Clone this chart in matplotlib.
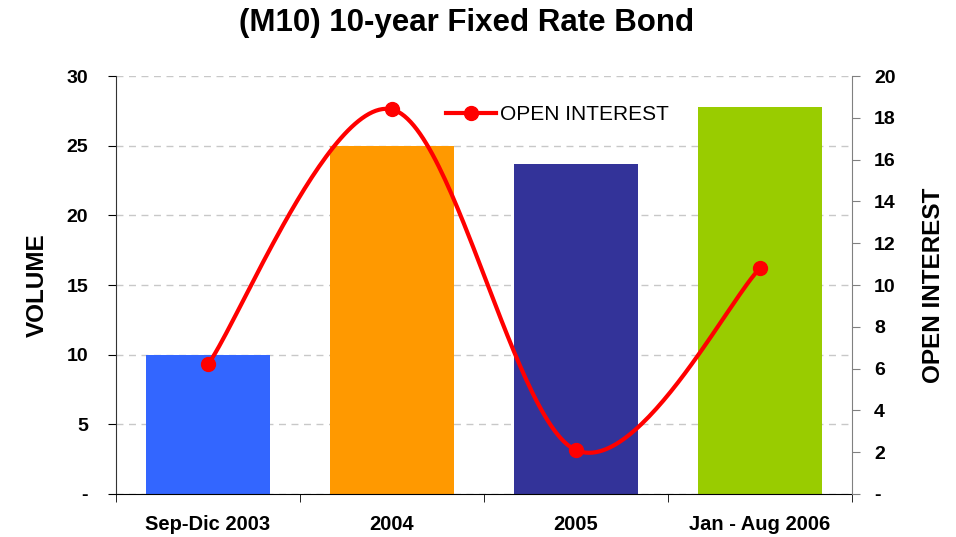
import numpy as np
import matplotlib
matplotlib.use("Agg")
import matplotlib.pyplot as plt
from matplotlib.lines import Line2D

plt.rcParams['font.family'] = ['Liberation Sans', 'DejaVu Sans']

categories = ["Sep-Dic 2003", "2004", "2005", "Jan - Aug 2006"]
volume = [10.0, 25.0, 23.7, 27.8]
open_interest = [6.2, 18.4, 2.1, 10.8]
bar_colors = ["#3366FF", "#FF9900", "#333399", "#99CC00"]
left_ticks = [0, 5, 10, 15, 20, 25, 30]
left_labels = ["-", "5", "10", "15", "20", "25", "30"]
right_ticks = [0, 2, 4, 6, 8, 10, 12, 14, 16, 18, 20]
right_labels = ["-"] + [str(v) for v in right_ticks[1:]]


def catmull_rom(xs, ys, n=60):
    xs = np.asarray(xs, float); ys = np.asarray(ys, float)
    px = np.concatenate([[xs[0]], xs, [xs[-1]]])
    py = np.concatenate([[ys[0]], ys, [ys[-1]]])
    ox, oy = [], []
    for i in range(1, len(px) - 2):
        p0 = np.array([px[i-1], py[i-1]]); p1 = np.array([px[i], py[i]])
        p2 = np.array([px[i+1], py[i+1]]); p3 = np.array([px[i+2], py[i+2]])
        c1 = p1 + (p2 - p0) / 6.0
        c2 = p2 - (p3 - p1) / 6.0
        t = np.linspace(0, 1, n)[:, None]
        b = ((1-t)**3)*p1 + 3*((1-t)**2)*t*c1 + 3*(1-t)*t**2*c2 + t**3*p2
        ox.extend(b[:, 0]); oy.extend(b[:, 1])
    return np.array(ox), np.array(oy)


fig = plt.figure(figsize=(9.56, 5.37), dpi=100)
ax = fig.add_axes([116/956, 1-494/537, (852-116)/956, (494-76)/537])
x = np.arange(len(categories))
ax.bar(x, volume, width=0.67, color=bar_colors, zorder=2)
ax.set_xlim(-0.5, len(categories) - 0.5)
ax.set_ylim(0, 30)
ax.set_yticks(left_ticks)
ax.set_yticklabels(left_labels, fontsize=14, fontweight='bold')
ax.set_xticks(x)
ax.set_xticklabels(categories, fontsize=14.5, fontweight='bold')
ax.tick_params(axis='x', length=0, pad=15)
ax.set_xticks(np.arange(-0.5, len(categories), 1.0), minor=True)
ax.tick_params(axis='x', which='minor', length=6, direction='out', color='black')
ax.tick_params(axis='y', length=6, direction='out', pad=14)
ax.grid(axis='y', color='#C8C8C8', linestyle=(0, (5, 4)), linewidth=1, zorder=0)
for s in ['top', 'right']:
    ax.spines[s].set_visible(False)
ax.spines['left'].set_color('#333333')
ax.spines['bottom'].set_color('black')
ax.set_ylabel("VOLUME", fontsize=17.5, fontweight='bold', labelpad=13)

ax2 = ax.twinx()
ax2.set_ylim(0, 20)
ax2.set_yticks(right_ticks)
ax2.set_yticklabels(right_labels, fontsize=14, fontweight='bold')
ax2.tick_params(axis='y', length=6, direction='out', color='#808080', pad=10)
for s in ['top', 'left', 'bottom']:
    ax2.spines[s].set_visible(False)
ax2.spines['right'].set_color('#808080')
ax2.set_ylabel("OPEN INTEREST", fontsize=17.5, fontweight='bold', labelpad=19)
sx, sy = catmull_rom(x, open_interest)
ax2.plot(sx, sy, color='#FF0000', linewidth=3, zorder=3, solid_capstyle='round')
ax2.plot(x, open_interest, 'o', color='#FF0000', markersize=10, zorder=4)
handle = Line2D([], [], color='#FF0000', linewidth=3, marker='o', markersize=10)
ax2.legend([handle], ["OPEN INTEREST"], loc='upper center', bbox_to_anchor=(0.6, 0.975),
           frameon=False, fontsize=15, handlelength=2.4, handletextpad=0.2)

fig.suptitle("(M10) 10-year Fixed Rate Bond", fontsize=22.5, fontweight='bold', x=467/956, y=1-23/537, va='center')
fig.savefig("out.png", dpi=100)
